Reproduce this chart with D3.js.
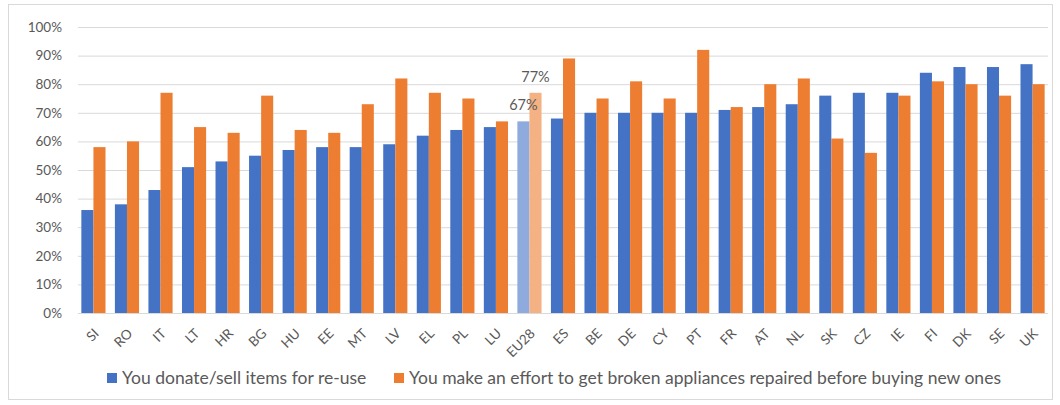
<!doctype html>
<html lang="en">
<head>
<meta charset="UTF-8">
<title>Re-use and repair</title>
<script src="https://d3js.org/d3.v7.min.js"></script>
<style>
    body { margin: 0; background: #fff; }
    text { font-family: Lato, "Open Sans", sans-serif; fill: #595959; }
</style>
</head>
<body>
<div id="chart-area"></div>
<script>
const countries = ['SI','RO','IT','LT','HR','BG','HU','EE','MT','LV','EL','PL','LU','EU28',
    'ES','BE','DE','CY','PT','FR','AT','NL','SK','CZ','IE','FI','DK','SE','UK'];
const donate = [36,38,43,51,53,55,57,58,58,59,62,64,65,67,68,70,70,70,70,71,72,73,76,77,77,84,86,86,87];
const repair = [58,60,77,65,63,76,64,63,73,82,77,75,67,77,89,75,81,75,92,72,80,82,61,56,76,81,80,76,80];
const seriesNames = ['You donate/sell items for re-use',
    'You make an effort to get broken appliances repaired before buying new ones'];
const yTicks = [0,10,20,30,40,50,60,70,80,90,100];
const highlight = 'EU28';

const W = 1060, H = 405;
const colors = ['#4472c4', '#ed7d31'];
const lightColors = ['#8faadc', '#f4b183'];

const svg = d3.select('#chart-area')
    .append('svg')
    .attr('width', W)
    .attr('height', H);

// outer frame
svg.append('rect')
    .attr('x', 8.5).attr('y', 4.5)
    .attr('width', 1044).attr('height', 395)
    .attr('fill', 'none')
    .attr('stroke', '#d9d9d9');

const x = d3.scaleBand()
    .domain(countries)
    .range([78, 1048])
    .paddingInner(0.28)
    .paddingOuter(0.1);

const x1 = d3.scaleBand()
    .domain([0, 1])
    .range([0, x.bandwidth()]);

const y = d3.scaleLinear()
    .domain([0, 100])
    .range([313, 27]);

// gridlines + y labels
const yAxis = svg.append('g')
    .attr('transform', 'translate(78,0)')
    .call(d3.axisLeft(y).tickValues(yTicks).tickSize(-970).tickFormat(d => d + '%'));
yAxis.select('.domain').remove();
yAxis.selectAll('line').attr('stroke', '#d9d9d9');
yAxis.selectAll('text').attr('x', -16).style('font-size', '13.5px');

// bars
const groups = svg.append('g')
    .selectAll('g')
    .data(countries)
    .enter()
    .append('g')
    .attr('transform', d => `translate(${x(d)},0)`);

groups.selectAll('rect')
    .data((c, i) => [donate[i], repair[i]].map((v, s) => ({ c, v, s })))
    .enter()
    .append('rect')
    .attr('x', d => x1(d.s))
    .attr('y', d => y(d.v))
    .attr('width', x1.bandwidth())
    .attr('height', d => y(0) - y(d.v))
    .attr('fill', d => d.c === highlight ? lightColors[d.s] : colors[d.s]);

// data labels for EU28
const hi = countries.indexOf(highlight);
[donate[hi], repair[hi]].forEach((v, s) => {
    svg.append('text')
        .attr('x', x(highlight) + x1(s) + x1.bandwidth() / 2)
        .attr('y', y(v) - 16)
        .attr('text-anchor', 'middle')
        .attr('dy', '0.35em')
        .style('font-size', '14.5px')
        .text(v + '%');
});

// x labels
svg.append('g')
    .selectAll('text')
    .data(countries)
    .enter()
    .append('text')
    .attr('transform', d => `translate(${x(d) + x.bandwidth() / 2 + 3},331) rotate(-45)`)
    .attr('text-anchor', 'end')
    .attr('dy', '0.35em')
    .style('font-size', '13.5px')
    .text(d => d);

// legend
const legendX = [107, 394];
seriesNames.forEach((name, s) => {
    svg.append('rect')
        .attr('x', legendX[s]).attr('y', 373)
        .attr('width', 10).attr('height', 10)
        .attr('fill', colors[s]);
    svg.append('text')
        .attr('x', legendX[s] + 15)
        .attr('y', 378)
        .attr('dy', '0.35em')
        .style('font-size', '17.5px')
        .text(name);
});
</script>
</body>
</html>
